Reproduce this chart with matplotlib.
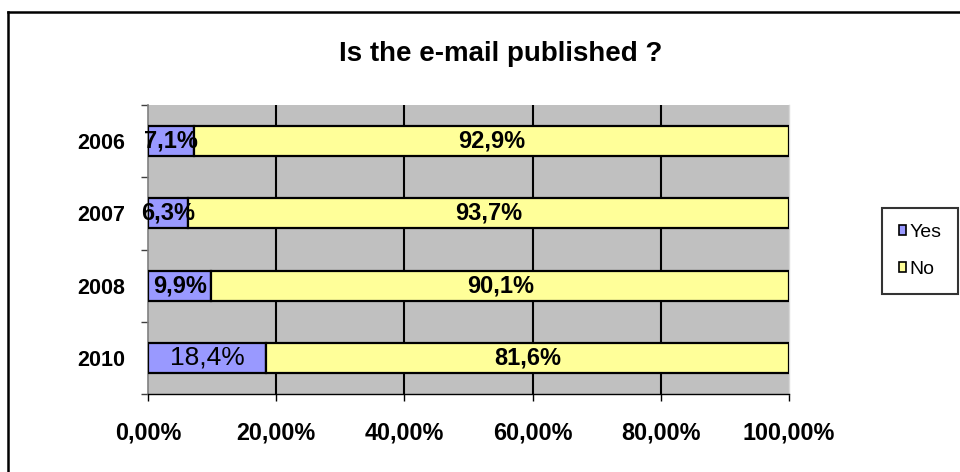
import matplotlib
matplotlib.use("Agg")
import matplotlib.pyplot as plt
from matplotlib.patches import Patch
from matplotlib.lines import Line2D

plt.rcParams['font.family'] = ['Liberation Sans', 'DejaVu Sans']

years = ["2006", "2007", "2008", "2010"]
yes_vals = [7.1, 6.3, 9.9, 18.4]
no_vals = [92.9, 93.7, 90.1, 81.6]
yes_labels = ["7,1%", "6,3%", "9,9%", "18,4%"]
no_labels = ["92,9%", "93,7%", "90,1%", "81,6%"]
x_ticks = [0, 20, 40, 60, 80, 100]
x_ticklabels = ["0,00%", "20,00%", "40,00%", "60,00%", "80,00%", "100,00%"]
title = "Is the e-mail published ?"
series_names = ["Yes", "No"]
colors = ["#9999FF", "#FFFF99"]

W, H = 960, 472
fig = plt.figure(figsize=(W / 100, H / 100), dpi=100)
ax = fig.add_axes([148 / W, 1 - 394 / H, (789 - 148) / W, (394 - 105) / H])
ax.set_facecolor("#C0C0C0")

n = len(years)
ypos = list(range(n))[::-1]  # 2006 on top
bh = 0.415
ax.barh(ypos, yes_vals, height=bh, color=colors[0], edgecolor="black", linewidth=1.6, zorder=3)
ax.barh(ypos, no_vals, left=yes_vals, height=bh, color=colors[1], edgecolor="black", linewidth=1.6, zorder=3)

for i, y in enumerate(ypos):
    yv, nv = yes_vals[i], no_vals[i]
    if years[i] == "2010":
        ax.text(yv / 2, y, yes_labels[i], ha="center", va="center", fontsize=19,
                fontweight="normal", zorder=5)
    else:
        ax.text(yv / 2, y, yes_labels[i], ha="center", va="center", fontsize=17,
                fontweight="bold", zorder=5)
    ax.text(yv + nv / 2, y, no_labels[i], ha="center", va="center", fontsize=17,
            fontweight="bold", zorder=5)

ax.set_xlim(0, 100)
ax.set_ylim(-0.5, n - 0.5)
ax.set_xticks(x_ticks)
ax.set_xticklabels(x_ticklabels, fontsize=16.8, fontweight="bold")
ax.tick_params(axis="x", direction="out", length=5, width=1, color="black", pad=14.5)

ax.set_yticks(ypos)
ax.set_yticklabels(years, fontsize=15.5, fontweight="bold")
ax.set_yticks([k - 0.5 for k in range(n + 1)], minor=True)
ax.tick_params(axis="y", which="major", length=0, pad=16.5)
ax.tick_params(axis="y", which="minor", length=5, width=1, color="#404040", direction="out")

for xv in x_ticks[1:-1]:
    ax.axvline(xv, color="black", linewidth=1.5, zorder=1)

ax.spines["top"].set_visible(False)
ax.spines["right"].set_color("#D8D8D8")
ax.spines["right"].set_linewidth(1)
ax.spines["left"].set_color("#808080")
ax.spines["left"].set_linewidth(1.2)
ax.spines["bottom"].set_color("black")
ax.spines["bottom"].set_linewidth(1)

fig.text(501 / W, 1 - 61 / H, title, ha="center", va="baseline", fontsize=20,
         fontweight="bold")

handles = [Patch(facecolor=colors[0], edgecolor="black", linewidth=1.2),
           Patch(facecolor=colors[1], edgecolor="black", linewidth=1.2)]
leg = fig.legend(handles, series_names, loc="center", bbox_to_anchor=(920 / W, 1 - 251 / H),
                 fontsize=14, frameon=True, fancybox=False, shadow=False,
                 handlelength=0.4, handleheight=0.4, handletextpad=0.15,
                 labelspacing=1.0, borderpad=0.85, borderaxespad=0)
leg.get_frame().set_edgecolor("black")
leg.get_frame().set_linewidth(1.5)

# outer chart border (left and top visible)
fig.add_artist(Line2D([8 / W, 8 / W], [-0.1, 1 - 12 / H], transform=fig.transFigure,
                      color="black", linewidth=1.8))
fig.add_artist(Line2D([8 / W, 1.1], [1 - 12 / H, 1 - 12 / H], transform=fig.transFigure,
                      color="black", linewidth=1.8))

fig.savefig("out.png", dpi=100)
